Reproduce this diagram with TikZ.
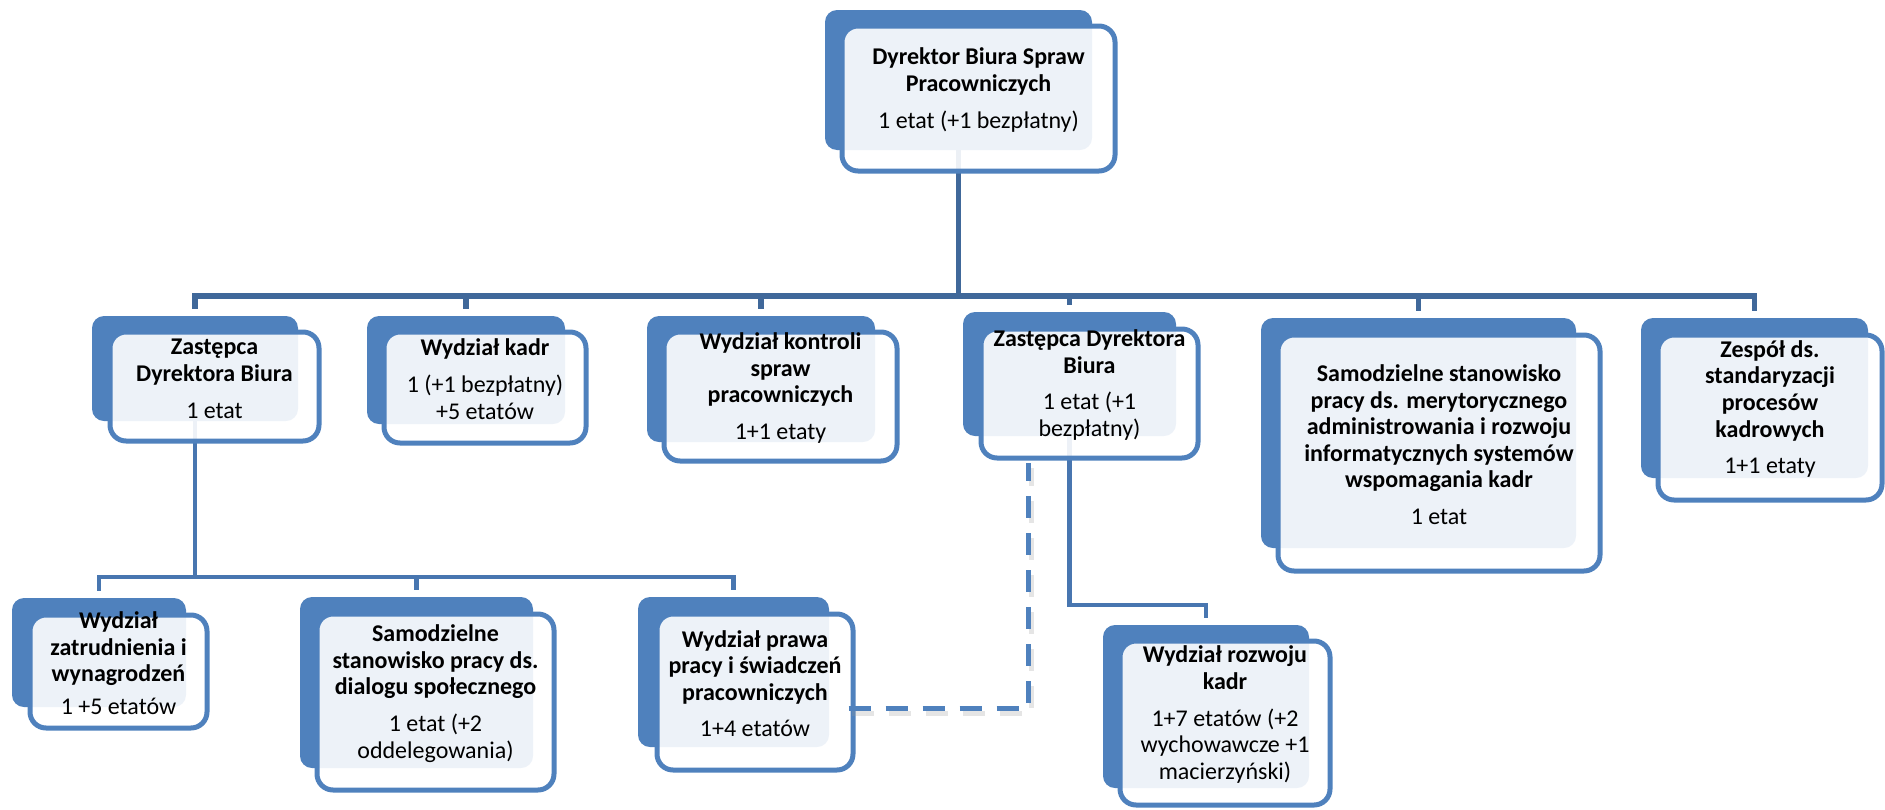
\documentclass[tikz,border=0pt]{standalone}
\usepackage{fontspec}
\setmainfont{Carlito}
\usetikzlibrary{fit,backgrounds}
\definecolor{boxblue}{RGB}{79,129,189}
\definecolor{linedark}{RGB}{64,104,154}
\definecolor{linemid}{RGB}{72,118,176}
\tikzset{
  backbox/.style={fill=boxblue, rounded corners=6pt, inner sep=0pt, draw=none},
  frontbox/.style={draw=boxblue, line width=2.5pt, fill=white, fill opacity=0.9, text opacity=1,
    rounded corners=8pt, inner sep=0pt, align=center, font=\fontsize{12}{13.3}\selectfont},
  toplink/.style={draw=linedark, line width=2.6pt},
  sublink/.style={draw=linemid, line width=2.2pt},
  dashlink/.style={draw=boxblue, line width=2.5pt, dash pattern=on 11pt off 7.5pt},
}
\begin{document}
\begin{tikzpicture}[x=0.5pt,y=-0.5pt]
\useasboundingbox (0,0) rectangle (1885,809);
% top
\node[backbox, fit={(825,10) (1092,150)}] (b0) {};
\node[frontbox, fit={(842,26) (1115,171)}] (t0) {\textbf{Dyrektor Biura Spraw}\\\textbf{Pracowniczych}\\[5pt]1 etat (+1 bezpłatny)};
% row 2
\node[backbox, fit={(92,316) (298,421)}] (b1) {};
\node[frontbox, fit={(110,332) (319,441)}] (t1) {\textbf{Zastępca}\\\textbf{Dyrektora Biura}\\[5pt]1 etat};
\node[backbox, fit={(367,316) (565,424)}] (b2) {};
\node[frontbox, fit={(384,332) (586,443)}] (t2) {\textbf{Wydział kadr}\\[5pt]1 (+1 bezpłatny)\\+5 etatów};
\node[backbox, fit={(647,316) (875,442)}] (b3) {};
\node[frontbox, fit={(664,332) (897,461)}] (t3) {\textbf{Wydział kontroli}\\\textbf{spraw}\\\textbf{pracowniczych}\\[5pt]1+1 etaty};
\node[backbox, fit={(963,312) (1176,436)}] (b4) {};
\node[frontbox, fit={(981,329) (1198,458)}] (t4) {\textbf{Zastępca Dyrektora}\\\textbf{Biura}\\[5pt]1 etat (+1\\bezpłatny)};
\node[backbox, fit={(1261,318) (1576,548)}] (b5) {};
\node[frontbox, fit={(1278,335) (1600,571)}] (t5) {\textbf{Samodzielne stanowisko}\\\textbf{pracy ds. merytorycznego}\\\textbf{administrowania i rozwoju}\\\textbf{informatycznych systemów}\\\textbf{wspomagania kadr}\\[5pt]1 etat};
\node[backbox, fit={(1641,318) (1868,478)}] (b6) {};
\node[frontbox, fit={(1658,335) (1882,500)}] (t6) {\textbf{Zespół ds.}\\\textbf{standaryzacji}\\\textbf{procesów}\\\textbf{kadrowych}\\[5pt]1+1 etaty};
% row 3
\node[backbox, fit={(12,598) (186,707)}] (b7) {};
\node[frontbox, fit={(30,615) (207,728)}] (t7) {\textbf{Wydział}\\\textbf{zatrudnienia i}\\\textbf{wynagrodzeń}\\[3pt]1 +5 etatów};
\node[backbox, fit={(300,597) (533,768)}] (b8) {};
\node[frontbox, fit={(317,614) (554,790)}] (t8) {\textbf{Samodzielne}\\\textbf{stanowisko pracy ds.}\\\textbf{dialogu społecznego}\\[5pt]1 etat (+2\\oddelegowania)};
\node[backbox, fit={(638,597) (829,747)}] (b9) {};
\node[frontbox, fit={(657,614) (853,770)}] (t9) {\textbf{Wydział prawa}\\\textbf{pracy i świadczeń}\\\textbf{pracowniczych}\\[5pt]1+4 etatów};
\node[backbox, fit={(1103,625) (1309,788)}] (b10) {};
\node[frontbox, fit={(1120,641) (1330,805)}] (t10) {\textbf{Wydział rozwoju}\\\textbf{kadr}\\[5pt]1+7 etatów (+2\\wychowawcze +1\\macierzyński)};
% connectors
\coordinate (bus0) at (0,296);
\coordinate (bus1) at (0,577);
\coordinate (bus2) at (0,605);
\coordinate (dcorner) at (1028,708);
\coordinate (dtop) at (1028,463);
\begin{scope}[on background layer]
\foreach \c in {b1,b2,b3,b4,b5,b6}
  \draw[toplink, shorten >=3.5pt] (b0.south) -- (b0.south |- bus0) -| (\c.north);
\foreach \c in {b7,b8,b9}
  \draw[sublink, shorten >=3.5pt] (b1.south) -- (b1.south |- bus1) -| (\c.north);
\draw[sublink, shorten >=3.5pt] (b4.south) -- (b4.south |- bus2) -| (b10.north);
\end{scope}
\draw[dashlink, draw=black!40, opacity=0.25, transform canvas={shift={(1.5pt,-2.5pt)}}, shorten <=-3.5pt]
  (t9.east |- dcorner) -- (dcorner) -- (dtop);
\draw[dashlink, shorten <=-3.5pt] (t9.east |- dcorner) -- (dcorner) -- (dtop);
\end{tikzpicture}
\end{document}
